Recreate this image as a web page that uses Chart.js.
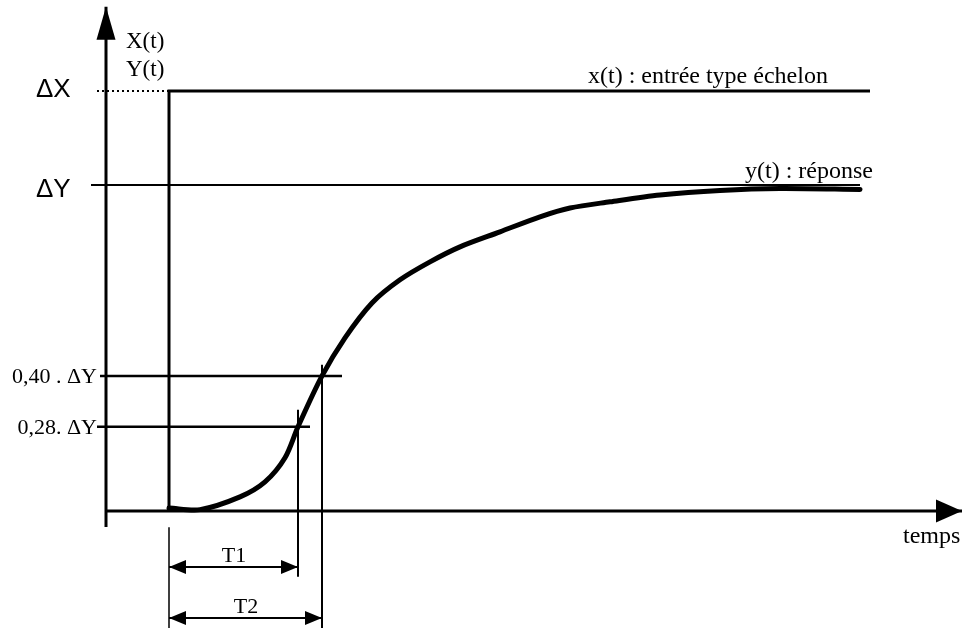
<!DOCTYPE html>
<html lang="fr">
<head>
<meta charset="UTF-8">
<title>Réponse indicielle</title>
<script src="https://cdn.jsdelivr.net/npm/chart.js"></script>
<style>
    body { margin: 0; background: #fff; }
    .wrap { width: 965px; height: 628px; position: relative; }
</style>
</head>
<body>
<div class="wrap"><canvas id="graphe"></canvas></div>
<script>
// unités : t en unités de temps (échelon à t = 0), y en multiples de ΔY
const axeT = -0.63;
const niveauX = 1.288;     // ΔX
const niveauY = 1.0;       // ΔY
const niveau40 = 0.414;
const niveau28 = 0.258;
const tT1 = 1.29;
const tT2 = 1.53;

// réponse y(t)
const courbeT = [0, 0.31, 0.71, 0.96, 1.16, 1.29, 1.53, 1.76, 2.03, 2.31, 2.61, 2.91, 3.31, 3.71, 4.01, 4.41, 4.91, 5.51, 6.11, 6.91];
const courbeY = [0.009, 0.004, 0.043, 0.089, 0.163, 0.258, 0.414, 0.531, 0.638, 0.709, 0.764, 0.81, 0.856, 0.902, 0.929, 0.948, 0.969, 0.983, 0.989, 0.986];

// entrée échelon x(t)
const echelonT = [0, 0, 7.01];
const echelonY = [0, niveauX, niveauX];

// textes
const textes = ['X(t)', 'Y(t)', 'ΔX', 'ΔY', '0,40 . ΔY', '0,28. ΔY', 'T1', 'T2',
    'x(t) : entrée type échelon', 'y(t) : réponse', 'temps'];
const texteT = [-0.43, -0.43, -1.33, -1.33, -0.72, -0.72, 0.65, 0.77, 4.19, 5.76, 7.34];
const texteY = [1.420, 1.334, 1.270, 0.963, 0.393, 0.236, -0.156, -0.313, 1.313, 1.021, -0.098];
const texteAlign = ['left', 'left', 'left', 'left', 'right', 'right', 'center', 'center', 'left', 'left', 'left'];
const texteTaille = [23, 23, 26, 26, 22, 22, 22, 22, 24, 24, 24];
const texteSans = [false, false, true, true, false, false, false, false, false, false, false];

function seg(t, y) {
    return t.map((v, i) => ({ x: v, y: y[i] }));
}

function trait(data, largeur, extra) {
    return Object.assign({
        data: data,
        showLine: true,
        borderColor: '#000',
        borderWidth: largeur,
        pointRadius: 0,
        tension: 0,
        fill: false
    }, extra || {});
}

// pointes de flèches aux extrémités des traits
const fleches = {
    id: 'fleches',
    afterDatasetsDraw(chart) {
        const ctx = chart.ctx;
        chart.data.datasets.forEach((ds, i) => {
            if (!ds.fleche) return;
            const pts = chart.getDatasetMeta(i).data;
            const [long, larg] = ds.fleche;
            const bouts = [];
            if (ds.flecheFin) bouts.push([pts[pts.length - 1], pts[pts.length - 2]]);
            if (ds.flecheDebut) bouts.push([pts[0], pts[1]]);
            bouts.forEach(([a, b]) => {
                const ang = Math.atan2(a.y - b.y, a.x - b.x);
                ctx.save();
                ctx.translate(a.x, a.y);
                ctx.rotate(ang);
                ctx.beginPath();
                ctx.moveTo(0, 0);
                ctx.lineTo(-long, -larg / 2);
                ctx.lineTo(-long, larg / 2);
                ctx.closePath();
                ctx.fillStyle = '#000';
                ctx.fill();
                ctx.restore();
            });
        });
    }
};

const etiquettes = {
    id: 'etiquettes',
    afterDraw(chart) {
        const ctx = chart.ctx;
        const sx = chart.scales.x, sy = chart.scales.y;
        ctx.save();
        ctx.fillStyle = '#000';
        ctx.textBaseline = 'alphabetic';
        textes.forEach((txt, i) => {
            ctx.font = texteTaille[i] + 'px ' + (texteSans[i]
                ? '"Liberation Sans", Arial, sans-serif'
                : '"Liberation Serif", "Times New Roman", serif');
            ctx.textAlign = texteAlign[i];
            ctx.fillText(txt, sx.getPixelForValue(texteT[i]), sy.getPixelForValue(texteY[i]));
        });
        ctx.restore();
    }
};

new Chart(document.getElementById('graphe'), {
    type: 'scatter',
    data: {
        datasets: [
            // axes
            trait(seg([axeT, axeT], [-0.049, 1.546]), 3, { fleche: [33, 19], flecheFin: true }),
            trait(seg([axeT, 7.93], [0, 0]), 3, { fleche: [26, 23], flecheFin: true }),
            // échelon et pointillé ΔX
            trait(seg(echelonT, echelonY), 3),
            trait(seg([-0.72, 0], [niveauX, niveauX]), 2, { borderDash: [2, 3] }),
            // niveau ΔY
            trait(seg([-0.78, 6.91], [niveauY, niveauY]), 2),
            // niveaux 0,40 et 0,28
            trait(seg([-0.69, 1.73], [niveau40, niveau40]), 2.5),
            trait(seg([-0.72, 1.41], [niveau28, niveau28]), 2.5),
            // verticales T1, T2 et rappel t = 0
            trait(seg([tT1, tT1], [0.31, -0.202]), 2),
            trait(seg([tT2, tT2], [0.448, -0.36]), 2),
            trait(seg([0, 0], [-0.05, -0.36]), 1.5),
            // cotes T1 et T2
            trait(seg([0, tT1], [-0.172, -0.172]), 2, { fleche: [17, 14], flecheFin: true, flecheDebut: true }),
            trait(seg([0, tT2], [-0.328, -0.328]), 2, { fleche: [17, 14], flecheFin: true, flecheDebut: true }),
            // réponse
            trait(seg(courbeT, courbeY), 5, { tension: 0.3, borderCapStyle: 'round', borderJoinStyle: 'round' })
        ]
    },
    options: {
        responsive: true,
        maintainAspectRatio: false,
        animation: false,
        layout: { padding: 0 },
        plugins: { legend: { display: false }, tooltip: { enabled: false } },
        scales: {
            x: { type: 'linear', display: false, min: -1.69, max: 7.96 },
            y: { type: 'linear', display: false, min: -0.359, max: 1.567 }
        }
    },
    plugins: [fleches, etiquettes]
});
</script>
</body>
</html>
